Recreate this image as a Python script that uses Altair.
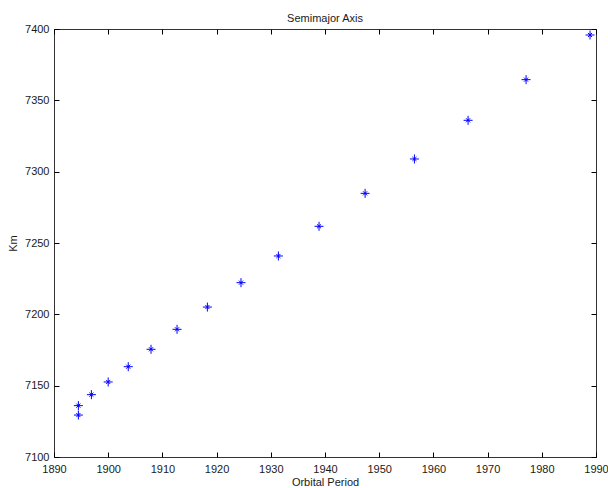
import altair as alt
import pandas as pd

# Data
period = [1894.5, 1894.5, 1896.9, 1900.0, 1903.7, 1907.9, 1912.7, 1918.3,
          1924.5, 1931.4, 1938.9, 1947.4, 1956.5, 1966.4, 1977.1, 1988.9]
semimajor_km = [7129.4, 7136.0, 7143.7, 7152.6, 7163.3, 7175.5, 7189.5, 7205.1,
                7222.2, 7240.9, 7261.7, 7284.8, 7308.9, 7336.0, 7364.5, 7395.8]
x_ticks = [1890, 1900, 1910, 1920, 1930, 1940, 1950, 1960, 1970, 1980, 1990]
y_ticks = [7100, 7150, 7200, 7250, 7300, 7350, 7400]

df = pd.DataFrame({"period": period, "km": semimajor_km})

FONT = "Liberation Sans"
TXT = "#1a1a1a"

xs = alt.Scale(domain=[1890, 1990], nice=False, zero=False)
ys = alt.Scale(domain=[7100, 7400], nice=False, zero=False)

common = dict(offset=-5, domain=False, tickSize=5, tickColor="#000000", tickWidth=1,
              grid=False, labelFont=FONT, labelFontSize=11, labelColor=TXT,
              titleFont=FONT, titleFontSize=11, titleFontWeight="normal", titleColor=TXT,
              labelOverlap=False, labelFlush=False, format="d")

x_bottom = alt.Axis(orient="bottom", values=x_ticks, labelPadding=6,
                    title="Orbital Period", titlePadding=2, **common)
y_left = alt.Axis(orient="left", values=y_ticks, labelPadding=5,
                  title="Km", titlePadding=6, **common)
x_top = alt.Axis(orient="top", values=x_ticks, labels=False, title=None,
                 **{k: v for k, v in common.items() if not k.startswith("title")})
y_right = alt.Axis(orient="right", values=y_ticks, labels=False, title=None,
                   **{k: v for k, v in common.items() if not k.startswith("title")})

asterisk = "M-1,0L1,0M0,-1L0,1M-0.45,-0.45L0.45,0.45M-0.45,0.45L0.45,-0.45"

pts = alt.Chart(df).mark_point(shape=asterisk, filled=False, color="#0000ff",
                               size=81, strokeWidth=1, opacity=1).encode(
    x=alt.X("period:Q", scale=xs, axis=x_bottom),
    y=alt.Y("km:Q", scale=ys, axis=y_left),
)

frame_axes = alt.Chart(df).mark_point(opacity=0).encode(
    x=alt.X("period:Q", scale=xs, axis=x_top),
    y=alt.Y("km:Q", scale=ys, axis=y_right),
)

chart = alt.layer(pts, frame_axes).resolve_axis(
    x="independent", y="independent"
).properties(
    width=542, height=428,
    title=alt.TitleParams("Semimajor Axis", font=FONT, fontSize=11, fontWeight="normal",
                          color=TXT, baseline="alphabetic", offset=9, dy=19, anchor="middle"),
    autosize=alt.AutoSizeParams(type="none"),
    padding={"left": 54, "top": 29, "right": 12, "bottom": 31},
    background="white",
).configure_view(stroke="#333333", strokeWidth=1)

chart.save("out.html", embed_options={"renderer": "svg", "actions": False})
